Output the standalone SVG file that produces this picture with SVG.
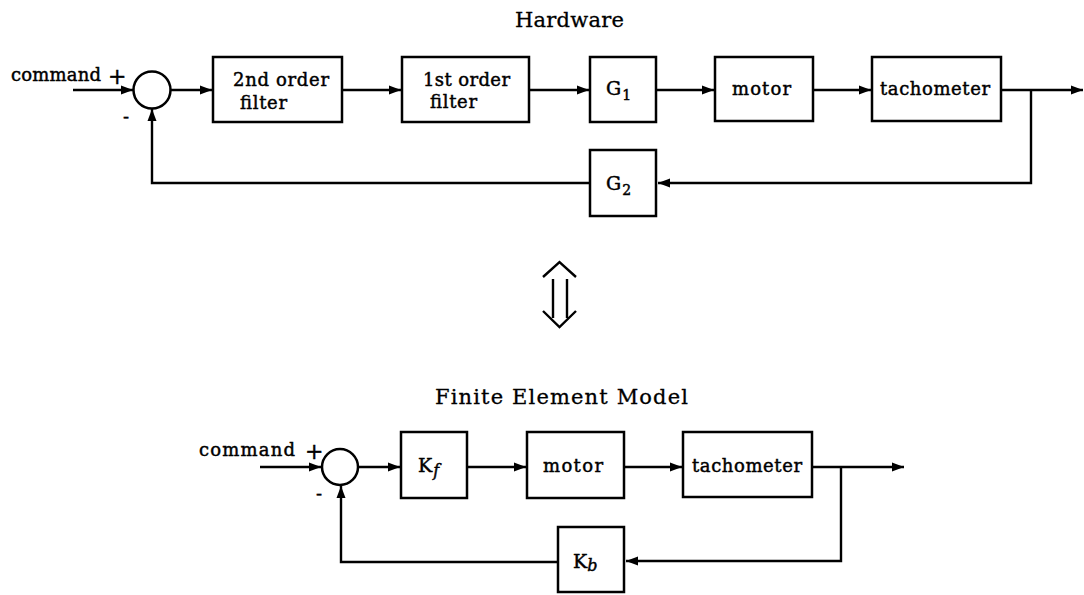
<svg xmlns="http://www.w3.org/2000/svg" width="1084" height="595" viewBox="0 0 1084 595">
<defs>
<style>
.b{fill:#fff;stroke:#000;stroke-width:2.5}
.l{fill:none;stroke:#000;stroke-width:2.4}
.t{font-family:"DejaVu Serif","Liberation Serif",serif;font-size:18px;fill:#000;stroke:#000;stroke-width:0.45}
.ti{font-family:"DejaVu Serif","Liberation Serif",serif;font-size:21px;fill:#000;stroke:#000;stroke-width:0.3}
.s{font-size:14px}
.it{font-style:italic}
</style>
<marker id="ah" viewBox="0 0 12 10" refX="12" refY="5" markerWidth="12" markerHeight="10" orient="auto" markerUnits="userSpaceOnUse"><path d="M0,0.5 L12,5 L0,9.5 z" fill="#000"/></marker>
</defs>
<rect width="1084" height="595" fill="#fff"/>
<text class="ti" x="515" y="27" textLength="109" lengthAdjust="spacing">Hardware</text>
<text class="ti" x="435" y="404" textLength="253" lengthAdjust="spacing">Finite Element Model</text>

<g id="connectors">
<line class="l" x1="73" y1="90" x2="133" y2="90" marker-end="url(#ah)"/>
<line class="l" x1="171" y1="90" x2="212" y2="90" marker-end="url(#ah)"/>
<line class="l" x1="342" y1="90" x2="401" y2="90" marker-end="url(#ah)"/>
<line class="l" x1="529" y1="90" x2="589" y2="90" marker-end="url(#ah)"/>
<line class="l" x1="656" y1="90" x2="714" y2="90" marker-end="url(#ah)"/>
<line class="l" x1="813" y1="90" x2="871" y2="90" marker-end="url(#ah)"/>
<line class="l" x1="1001" y1="90" x2="1083" y2="90" marker-end="url(#ah)"/>
<polyline class="l" points="1031,90 1031,183 658,183" marker-end="url(#ah)"/>
<polyline class="l" points="590,183 152,183 152,109" marker-end="url(#ah)"/>

<line class="l" x1="260" y1="467" x2="321" y2="467" marker-end="url(#ah)"/>
<line class="l" x1="358" y1="467" x2="400" y2="467" marker-end="url(#ah)"/>
<line class="l" x1="467" y1="467" x2="526" y2="467" marker-end="url(#ah)"/>
<line class="l" x1="624" y1="467" x2="682" y2="467" marker-end="url(#ah)"/>
<line class="l" x1="812" y1="467" x2="904" y2="467" marker-end="url(#ah)"/>
<polyline class="l" points="841,467 841,561 626,561" marker-end="url(#ah)"/>
<polyline class="l" points="558,562 341,562 341,486" marker-end="url(#ah)"/>
</g>

<g id="equiv">
<polyline class="l" points="543,277 559.5,262 576,277"/>
<polyline class="l" points="543,311 559.5,327 576,311"/>
<line class="l" x1="553" y1="279" x2="553" y2="318"/>
<line class="l" x1="567" y1="279" x2="567" y2="318"/>
</g>

<g id="hw-input">
<text class="t" x="11" y="81" textLength="90" lengthAdjust="spacing">command</text>
<text class="t" x="108" y="84" style="font-size:22px">+</text>
<text class="t" x="123" y="123">-</text>
</g>
<g id="hw-sum"><circle class="b" cx="152" cy="90" r="18.5"/></g>
<g id="hw-filter2">
<rect class="b" x="213" y="57" width="129" height="65"/>
<text class="t" x="233" y="86" textLength="96" lengthAdjust="spacing">2nd order</text>
<text class="t" x="240" y="109" textLength="47" lengthAdjust="spacing">filter</text>
</g>
<g id="hw-filter1">
<rect class="b" x="402" y="57" width="127" height="65"/>
<text class="t" x="423" y="86" textLength="87" lengthAdjust="spacing">1st order</text>
<text class="t" x="430" y="108" textLength="47" lengthAdjust="spacing">filter</text>
</g>
<g id="hw-g1">
<rect class="b" x="590" y="57" width="66" height="65"/>
<text class="t" x="606" y="95" style="font-size:19px">G<tspan class="s" dx="1" dy="5">1</tspan></text>
</g>
<g id="hw-motor">
<rect class="b" x="715" y="57" width="98" height="64"/>
<text class="t" x="732" y="95" textLength="59" lengthAdjust="spacing">motor</text>
</g>
<g id="hw-tach">
<rect class="b" x="872" y="57" width="129" height="64"/>
<text class="t" x="880" y="95" textLength="110" lengthAdjust="spacing">tachometer</text>
</g>
<g id="hw-g2">
<rect class="b" x="590" y="150" width="66" height="66"/>
<text class="t" x="606" y="190" style="font-size:19px">G<tspan class="s" dx="1" dy="5">2</tspan></text>
</g>

<g id="fem-input">
<text class="t" x="199" y="456" textLength="96" lengthAdjust="spacing">command</text>
<text class="t" x="305" y="459" style="font-size:22px">+</text>
<text class="t" x="316" y="500">-</text>
</g>
<g id="fem-sum"><circle class="b" cx="340" cy="467" r="18"/></g>
<g id="fem-kf">
<rect class="b" x="401" y="432" width="66" height="66"/>
<text class="t" x="418" y="472" style="font-size:19px">K<tspan class="it" dx="1" dy="4" style="font-size:16px">f</tspan></text>
</g>
<g id="fem-motor">
<rect class="b" x="527" y="432" width="97" height="66"/>
<text class="t" x="543" y="472" textLength="60" lengthAdjust="spacing">motor</text>
</g>
<g id="fem-tach">
<rect class="b" x="683" y="432" width="129" height="65"/>
<text class="t" x="692" y="472" textLength="110" lengthAdjust="spacing">tachometer</text>
</g>
<g id="fem-kb">
<rect class="b" x="558" y="527" width="66" height="65"/>
<text class="t" x="573" y="568" style="font-size:19px">K<tspan class="it" dy="3" style="font-size:16px">b</tspan></text>
</g>
</svg>
